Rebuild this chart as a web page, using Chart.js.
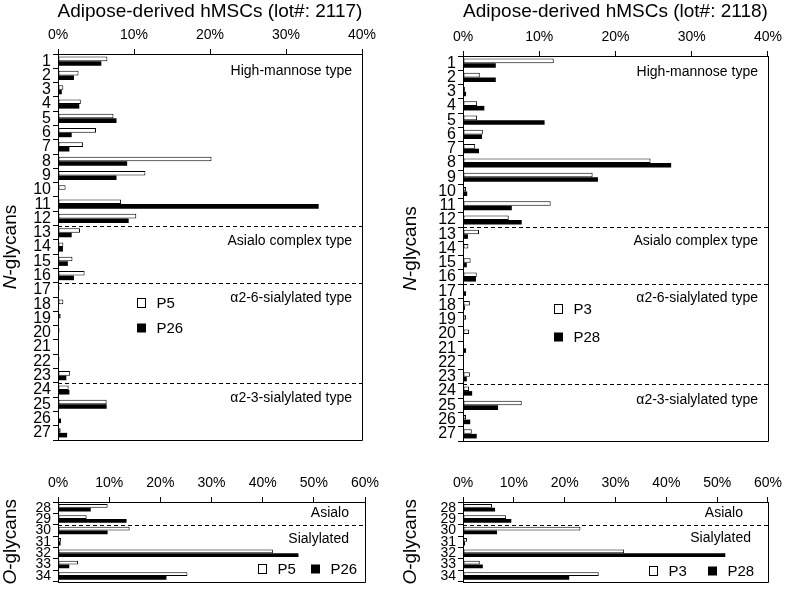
<!DOCTYPE html>
<html><head><meta charset="utf-8">
<script src="https://cdn.jsdelivr.net/npm/chart.js@4/dist/chart.umd.min.js"></script>
<style>
html,body{margin:0;padding:0;background:#fff;}
#wrap{position:relative;width:787px;height:592px;overflow:hidden;}
#wrap canvas{position:absolute;left:0;top:0;}
</style></head><body>
<div id="wrap">
<canvas id="c1" width="787" height="592"></canvas>
<canvas id="c2" width="787" height="592"></canvas>
<canvas id="c3" width="787" height="592"></canvas>
<canvas id="c4" width="787" height="592"></canvas>
</div>
<script>
// ---------- data ----------
const nCategories = ["1","2","3","4","5","6","7","8","9","10","11","12","13","14","15","16","17","18","19","20","21","22","23","24","25","26","27"];
const oCategories = ["28","29","30","31","32","33","34"];

const nLot2117P5  = [6.5,2.7,0.7,3.0,7.3,5.0,3.3,20.2,11.5,1.0,8.3,10.3,2.9,0.7,1.9,3.5,0.2,0.7,0.35,0.2,0.1,0.2,1.6,1.4,6.4,0.1,0.35];
const nLot2117P26 = [5.7,2.1,0.5,2.8,7.7,1.8,1.5,9.1,7.7,0.05,34.3,9.3,1.8,0.65,1.3,2.1,0.1,0.1,0.05,0.1,0.0,0.1,1.1,1.5,6.4,0.4,1.2];
const nLot2118P3  = [11.9,2.2,0.25,1.85,1.85,2.6,1.6,24.6,17.0,0.4,11.5,6.0,2.1,0.7,1.0,1.8,0.1,0.9,0.4,0.8,0.1,0.1,0.9,0.8,7.7,0.4,1.15];
const nLot2118P28 = [4.3,4.3,0.4,2.8,10.7,2.5,2.1,27.3,17.7,0.55,6.4,7.7,0.65,0.1,0.5,1.7,0.4,0.25,0.1,0.1,0.4,0.1,0.5,1.2,4.6,0.95,1.8];

const oLot2117P5  = [9.7,5.6,14.0,0.6,42.0,3.9,25.3];
const oLot2117P26 = [6.4,13.4,9.7,0.5,47.0,2.2,21.2];
const oLot2118P3  = [5.7,8.5,23.1,0.8,31.7,3.3,26.7];
const oLot2118P28 = [6.3,9.5,6.7,0.4,51.6,3.9,20.9];

const nTickValues = [0,10,20,30,40];
const oTickValues = [0,10,20,30,40,50,60];

const titles = ["Adipose-derived hMSCs (lot#: 2117)", "Adipose-derived hMSCs (lot#: 2118)"];
const nGroupNames = ["High-mannose type","Asialo complex type","α2-6-sialylated type","α2-3-sialylated type"];
const oGroupNames = ["Asialo","Sialylated"];
const nSeparatorsAfter = [12,16,23];
const oSeparatorsAfter = [29];
// ---------------------------

const FONT = '"Liberation Sans", Arial, sans-serif';
Chart.defaults.font.family = FONT;
Chart.defaults.color = '#000';
const YW = 50, XH = 40;

function drawYTitle(ctx, cx, cy, it, rest, size){
  ctx.save();
  ctx.translate(cx, cy); ctx.rotate(-Math.PI/2);
  ctx.font = `italic ${size}px ${FONT}`; const w1 = ctx.measureText(it).width;
  ctx.font = `${size}px ${FONT}`; const w2 = ctx.measureText(rest).width;
  const sx = -(w1+w2)/2;
  ctx.textBaseline = 'middle'; ctx.textAlign = 'left'; ctx.fillStyle = '#000';
  ctx.font = `italic ${size}px ${FONT}`; ctx.fillText(it, sx, 0);
  ctx.font = `${size}px ${FONT}`; ctx.fillText(rest, sx + w1, 0);
  ctx.restore();
}

const decor = {
  id: 'decor',
  afterDatasetsDraw(chart, args, o){
    const {ctx, chartArea: ca} = chart;
    const x = chart.scales.x, y = chart.scales.y;
    const cats = chart.data.labels;
    ctx.save();
    ctx.strokeStyle = '#000'; ctx.lineWidth = 1;
    // right & bottom frame
    ctx.beginPath();
    ctx.moveTo(Math.round(ca.right)+0.5, ca.top);
    ctx.lineTo(Math.round(ca.right)+0.5, Math.round(ca.bottom)+0.5);
    ctx.lineTo(ca.left, Math.round(ca.bottom)+0.5);
    ctx.stroke();
    // separators
    ctx.setLineDash([4,3]);
    o.separators.forEach(lbl => {
      const idx = cats.indexOf(String(lbl));
      const py = Math.round(y.getPixelForValue(idx + 0.5)) + 0.5;
      ctx.beginPath(); ctx.moveTo(ca.left, py); ctx.lineTo(ca.right, py); ctx.stroke();
    });
    ctx.setLineDash([]);
    // group labels
    ctx.fillStyle = '#000';
    ctx.font = `14px ${FONT}`;
    ctx.textAlign = 'right'; ctx.textBaseline = 'middle';
    o.groups.forEach(g => {
      ctx.fillText(g.text, ca.right - g.inset, y.getPixelForValue(g.at));
    });
    // legend
    ctx.textAlign = 'left';
    ctx.font = `15px ${FONT}`;
    o.legend.forEach((it, i) => {
      const bx = Math.round(x.getPixelForValue(it.x)) + 0.5;
      const by = Math.round(y.getPixelForValue(it.y));
      const ds = chart.data.datasets[i];
      if (i === 0){ ctx.fillStyle = '#fff'; ctx.fillRect(bx, by-4, 8, 8); ctx.strokeRect(bx, by-4.5, 8, 9); }
      else { ctx.fillStyle = '#000'; ctx.fillRect(bx-0.5, by-4.5, 9, 9); }
      ctx.fillStyle = '#000';
      ctx.fillText(ds.label, bx + 19, by + 1);
    });
    // title
    if (o.title){
      ctx.font = `19px ${FONT}`; ctx.textAlign = 'center'; ctx.textBaseline = 'alphabetic';
      ctx.fillText(o.title, (ca.left + ca.right)/2, 17);
    }
    drawYTitle(ctx, o.yTitle.x, (ca.top + ca.bottom)/2 + o.yTitle.dy, o.yTitle.it, o.yTitle.rest, 19);
    ctx.restore();
  }
};

function makePanel(id, box, labels, a, b, names, ticks, decorOpts, catPct, labelSize){
  const maxV = ticks[ticks.length-1];
  return new Chart(document.getElementById(id), {
    type: 'bar',
    data: {
      labels: labels,
      datasets: [
        {label: names[0], data: a, backgroundColor: '#fff', borderColor: '#000', borderWidth: 1, borderSkipped: false},
        {label: names[1], data: b, backgroundColor: '#000', borderColor: '#000', borderWidth: 0}
      ]
    },
    options: {
      indexAxis: 'y',
      responsive: false,
      animation: false,
      devicePixelRatio: 1,
      events: [],
      datasets: {bar: {categoryPercentage: catPct, barPercentage: 1.0}},
      layout: {padding: {left: box.l - YW, top: box.t - XH, right: 787 - box.r, bottom: 592 - box.b}},
      plugins: {legend: {display: false}, tooltip: {enabled: false}, title: {display: false}, decor: decorOpts},
      scales: {
        x: {
          type: 'linear', position: 'top', min: 0, max: maxV,
          afterFit(s){ s.height = XH; },
          afterBuildTicks(s){ s.ticks = ticks.map(v => ({value: v})); },
          ticks: {padding: 5, maxRotation: 0, autoSkip: false, font: {size: 14}, color: '#000', callback: v => v + '%'},
          grid: {drawOnChartArea: false, drawTicks: true, tickLength: 5, color: '#000', lineWidth: 1},
          border: {display: true, color: '#000', width: 1}
        },
        y: {
          type: 'category', position: 'left',
          afterFit(s){ s.width = YW; },
          ticks: {padding: 2, autoSkip: false, font: {size: labelSize}, color: '#000'},
          grid: {drawOnChartArea: false, drawTicks: true, tickLength: 5, color: '#000', lineWidth: 1, offset: true},
          border: {display: true, color: '#000', width: 1}
        }
      }
    },
    plugins: [decor]
  });
}

makePanel('c1', {l:58, r:362, t:54, b:440}, nCategories, nLot2117P5, nLot2117P26, ["P5","P26"], nTickValues, {
  title: titles[0],
  separators: nSeparatorsAfter,
  groups: [{text:nGroupNames[0], at:0.69, inset:10},{text:nGroupNames[1], at:12.58, inset:10},{text:nGroupNames[2], at:16.56, inset:10},{text:nGroupNames[3], at:23.6, inset:10}],
  legend: [{x:10.4, y:16.9},{x:10.4, y:18.64}],
  yTitle: {x:11, dy:0, it:'N', rest:'-glycans'}
}, 0.64, 16);

makePanel('c2', {l:463, r:773, t:56, b:441}, nCategories, nLot2118P3, nLot2118P28, ["P3","P28"], nTickValues, {
  title: titles[1],
  separators: nSeparatorsAfter,
  groups: [{text:nGroupNames[0], at:0.62, inset:10},{text:nGroupNames[1], at:12.47, inset:10},{text:nGroupNames[2], at:16.47, inset:10},{text:nGroupNames[3], at:23.6, inset:10}],
  legend: [{x:11.9, y:17.24},{x:11.9, y:19.2}],
  yTitle: {x:411, dy:0, it:'N', rest:'-glycans'}
}, 0.64, 16);

makePanel('c3', {l:58, r:365, t:502, b:591}, oCategories, oLot2117P5, oLot2117P26, ["P5","P26"], oTickValues, {
  title: null,
  separators: oSeparatorsAfter,
  groups: [{text:oGroupNames[0], at:0.44, inset:16},{text:oGroupNames[1], at:2.73, inset:16}],
  legend: [{x:39.0, y:5.4},{x:49.4, y:5.4}],
  yTitle: {x:11, dy:0, it:'O', rest:'-glycans'}
}, 0.66, 14);

makePanel('c4', {l:463, r:773, t:502, b:591}, oCategories, oLot2118P3, oLot2118P28, ["P3","P28"], oTickValues, {
  title: null,
  separators: oSeparatorsAfter,
  groups: [{text:oGroupNames[0], at:0.52, inset:25},{text:oGroupNames[1], at:2.65, inset:17}],
  legend: [{x:36.6, y:5.56},{x:48.2, y:5.56}],
  yTitle: {x:411, dy:0, it:'O', rest:'-glycans'}
}, 0.66, 14);
</script>
</body></html>
